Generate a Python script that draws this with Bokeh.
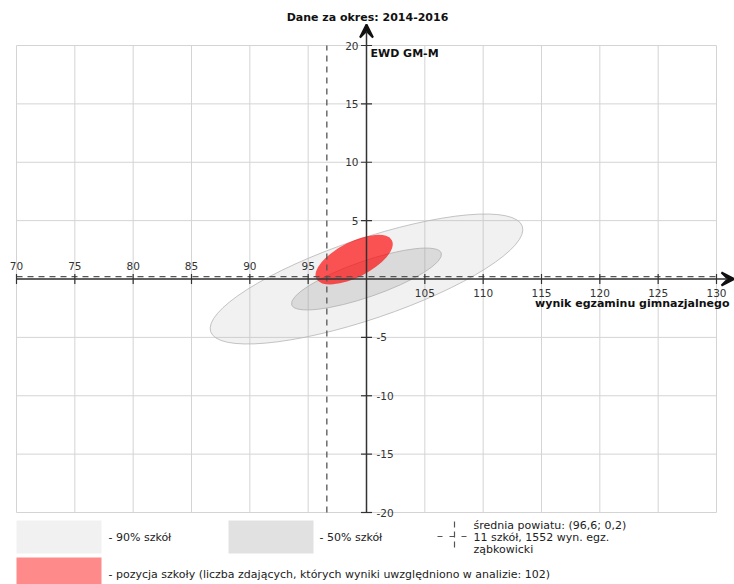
import math
from bokeh.plotting import figure
from bokeh.models import Arrow, VeeHead
from bokeh.core.properties import value
from bokeh.embed import file_html
from bokeh.resources import INLINE

# ---------------- data ----------------
x_ticks_left = [70, 75, 80, 85, 90, 95]
x_ticks_right = [105, 110, 115, 120, 125, 130]
y_ticks_up = [5, 10, 15, 20]
y_ticks_down = [-5, -10, -15, -20]
grid_x = [70, 75, 80, 85, 90, 95, 100, 105, 110, 115, 120, 125, 130]
grid_y = [-20, -15, -10, -5, 0, 5, 10, 15, 20]

# ellipses: 90% of schools, 50% of schools, school position
ell_names = ["90% szkół", "50% szkół", "pozycja szkoły"]
ell_cx = [100.0, 100.0, 98.94]
ell_cy = [0.0, 0.0, 1.66]
ell_w = [28.2, 13.57, 7.27]
ell_h = [6.87, 3.07, 3.03]
ell_angle = [18.7, 19.1, 26.9]

district_mean_x = 96.6
district_mean_y = 0.2
n_schools = 11
n_results = 1552
district = "ząbkowicki"
n_students = 102
period = "2014-2016"

# ---------------- geometry ----------------
W, H = 734, 584
OFF = 0  # page offset of the figure
PXX = 700 / 60.0
PXY = 467 / 40.0


def X(px):  # reference pixel -> data x
    return 70 + (px - 16) / PXX


def Y(py):  # reference pixel -> data y
    return 20 - (py - 45) / PXY


p = figure(width=W, height=H, x_range=(X(OFF), X(OFF + W)), y_range=(Y(OFF + H), Y(OFF)),
           output_backend="svg", toolbar_location=None,
           x_axis_location=None, y_axis_location=None, min_border=0)
p.outline_line_color = None
p.xgrid.visible = False
p.ygrid.visible = False
p.background_fill_color = "white"

FONT = value("DejaVu Sans")

# grid
p.segment(x0=grid_x, y0=[-20] * len(grid_x), x1=grid_x, y1=[20] * len(grid_x),
          line_color="#d4d4d4", line_width=1)
p.segment(x0=[70] * len(grid_y), y0=grid_y, x1=[130] * len(grid_y), y1=grid_y,
          line_color="#d4d4d4", line_width=1)

# ellipses
p.ellipse(x=ell_cx[0], y=ell_cy[0], width=ell_w[0], height=ell_h[0], angle=ell_angle[0],
          angle_units="deg", fill_color="#bbbbbb", fill_alpha=0.2,
          line_color="#b5b5b5", line_width=0.8)
p.ellipse(x=ell_cx[1], y=ell_cy[1], width=ell_w[1], height=ell_h[1], angle=ell_angle[1],
          angle_units="deg", fill_color="#999999", fill_alpha=0.25,
          line_color="#b0b0b0", line_width=0.8)
p.ellipse(x=ell_cx[2], y=ell_cy[2], width=ell_w[2], height=ell_h[2], angle=ell_angle[2],
          angle_units="deg", fill_color="#ff0000", fill_alpha=0.66, line_color=None)

# district mean dashed lines
p.segment(x0=[district_mean_x], y0=[-20], x1=[district_mean_x], y1=[20],
          line_color="#555555", line_width=1.3, line_dash="6 5")
p.segment(x0=[70], y0=[district_mean_y], x1=[130], y1=[district_mean_y],
          line_color="#555555", line_width=1.3, line_dash="6 5")

# axes with arrows
AX = "#333333"
p.add_layout(Arrow(x_start=70, y_start=0, x_end=X(734), y_end=0,
                   line_color=AX, line_width=1.5,
                   end=VeeHead(size=13, fill_color="#111111", line_color="#111111", line_width=2)))
p.add_layout(Arrow(x_start=100, y_start=-20, x_end=100, y_end=Y(24),
                   line_color=AX, line_width=1.5,
                   end=VeeHead(size=13, fill_color="#111111", line_color="#111111", line_width=2)))

# ticks
xt = x_ticks_left + x_ticks_right
p.segment(x0=xt, y0=[-5 / PXY] * len(xt), x1=xt, y1=[5 / PXY] * len(xt),
          line_color=AX, line_width=1.2)
yt = y_ticks_up + y_ticks_down
p.segment(x0=[100 - 5.5 / PXX] * len(yt), y0=yt, x1=[100 + 5.5 / PXX] * len(yt), y1=yt,
          line_color=AX, line_width=1.2)

# tick labels
TICK = dict(text_font=FONT, text_font_size="10.5px", text_color="#333333")
p.text(x=x_ticks_left, y=[13 / PXY] * len(x_ticks_left), text=[str(v) for v in x_ticks_left],
       text_align="center", text_baseline="middle", **TICK)
p.text(x=x_ticks_right, y=[-14 / PXY] * len(x_ticks_right), text=[str(v) for v in x_ticks_right],
       text_align="center", text_baseline="middle", **TICK)
p.text(x=[100 - 8 / PXX] * len(y_ticks_up), y=y_ticks_up, text=[str(v) for v in y_ticks_up],
       text_align="right", text_baseline="middle", **TICK)
p.text(x=[100 + 10 / PXX] * len(y_ticks_down), y=y_ticks_down, text=[str(v) for v in y_ticks_down],
       text_align="left", text_baseline="middle", **TICK)

# titles
BOLD = dict(text_font=FONT, text_font_size="11px", text_font_style="bold", text_color="#111111",
            text_baseline="middle")
p.text(x=[X(367)], y=[Y(16.5)], text=["Dane za okres: " + period], text_align="center", **BOLD)
p.text(x=[X(370)], y=[Y(52.5)], text=["EWD GM-M"], text_align="left", **BOLD)
p.text(x=[X(729)], y=[Y(303)], text=["wynik egzaminu gimnazjalnego"], text_align="right", **BOLD)

# legend
p.quad(left=[X(16)], right=[X(101)], top=[Y(520)], bottom=[Y(553)],
       fill_color="#f1f1f1", line_color=None)
p.quad(left=[X(228)], right=[X(313)], top=[Y(520)], bottom=[Y(553)],
       fill_color="#e1e1e1", line_color=None)
p.quad(left=[X(16)], right=[X(101)], top=[Y(557)], bottom=[Y(586)],
       fill_color="#ff8a8a", line_color=None)
LEG = dict(text_font=FONT, text_font_size="11px", text_color="#222222",
           text_align="left", text_baseline="middle")
p.text(x=[X(108)], y=[Y(537)], text=["- " + ell_names[0]], **LEG)
p.text(x=[X(319)], y=[Y(537)], text=["- " + ell_names[1]], **LEG)
p.text(x=[X(108)], y=[Y(574)],
       text=["- " + ell_names[2] + " (liczba zdających, których wyniki uwzględniono w analizie: "
             + str(n_students) + ")"], **LEG)

# district mean legend icon
p.segment(x0=[X(437)], y0=[Y(536)], x1=[X(467)], y1=[Y(536)],
          line_color="#555555", line_width=1.2, line_dash="5 7")
p.segment(x0=[X(454)], y0=[Y(521)], x1=[X(454)], y1=[Y(547)],
          line_color="#555555", line_width=1.2, line_dash="6 4")


def fmt(v):
    return ("%.1f" % v).replace(".", ",")


lines = ["średnia powiatu: (" + fmt(district_mean_x) + "; " + fmt(district_mean_y) + ")",
         str(n_schools) + " szkół, " + str(n_results) + " wyn. egz.",
         district]
p.text(x=[X(473)] * 3, y=[Y(525), Y(537), Y(549)], text=lines, **LEG)

open("out.html", "w").write(file_html(p, INLINE))
